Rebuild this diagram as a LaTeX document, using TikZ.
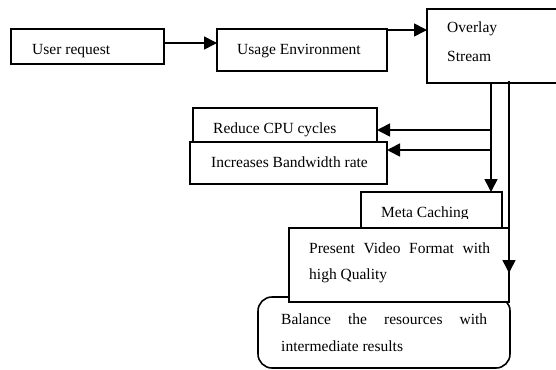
\documentclass[tikz,border=0pt]{standalone}
\usepackage{fontspec}
\setmainfont{Liberation Serif}
\usetikzlibrary{arrows.meta}
\begin{document}
\begin{tikzpicture}[x=1pt,y=-1pt,
  box/.style={draw, line width=1.6pt, fill=white, inner sep=0pt, outer sep=0pt, anchor=north west},
  lbl/.style={anchor=base west, inner sep=0pt, font=\fontsize{15.5}{18}\selectfont},
  conn/.style={line width=1.6pt, -{Triangle[length=13pt,width=13pt]}}]
\useasboundingbox (0,0) rectangle (556,369);
% boxes
\node[box, minimum width=153pt, minimum height=35pt] (ur) at (11,29) {};
\node[box, minimum width=170pt, minimum height=42pt] (ue) at (217,29) {};
\node[box, minimum width=140pt, minimum height=74pt] (ov) at (427,9) {};
\node[box, minimum width=184pt, minimum height=34pt] (rc) at (193,108) {};
\node[box, minimum width=197pt, minimum height=42pt] (ib) at (190,142) {};
\node[box, minimum width=141pt, minimum height=36pt] (mc) at (361,192) {};
\node[box, rounded corners=14pt, minimum width=252pt, minimum height=71pt] (bal) at (258,297) {};
\node[box, minimum width=220pt, minimum height=74pt] (pv) at (289,228) {};
% texts
\node[lbl] (tur) at (32,54) {User request};
\node[lbl] (tue) at (237,54) {Usage Environment};
\node[lbl] (tov1) at (447,33) {Overlay};
\node[lbl] (tov2) at (447,61) {Stream};
\node[lbl] (trc) at (213,133) {Reduce CPU cycles};
\node[lbl] (tib) at (211,167) {Increases Bandwidth rate};
\begin{scope}
  \clip (mc.north west) rectangle ([yshift=-26pt]mc.north east);
  \node[lbl] (tmc) at (381,217) {Meta Caching};
\end{scope}
\node[lbl] (tpv1) at (309,253) {\hbox to 181pt{Present\hfill Video\hfill Format\hfill with}};
\node[lbl] (tpv2) at (309,279) {high Quality};
\node[lbl] (tb1) at (281,324) {\hbox to 206pt{Balance\hfill the\hfill resources\hfill with}};
\node[lbl] (tb2) at (281,351) {intermediate results};
% connectors
\draw[conn] ([yshift=3.5pt]ur.east) -- ([yshift=3.5pt]ur.east -| ue.west);
\draw[conn] ([yshift=-1pt]ue.north east) -- ([yshift=-1pt]ue.north east -| ov.west);
\coordinate (j1) at ([xshift=64pt]ov.south west);
\coordinate (j2) at ([xshift=82pt,yshift=2pt]ov.south west);
\coordinate (r1) at ([yshift=-5pt]rc.east);
\coordinate (r2) at ([yshift=13pt]ib.east);
\coordinate (p1) at ([yshift=-45pt]pv.north east);
\draw[conn] (j1) -- (j1 |- mc.north);
\draw[conn] (j1 |- r1) -- (r1);
\draw[conn] (j1 |- r2) -- (r2);
\draw[conn] (j2) -- (p1);
\end{tikzpicture}
\end{document}
